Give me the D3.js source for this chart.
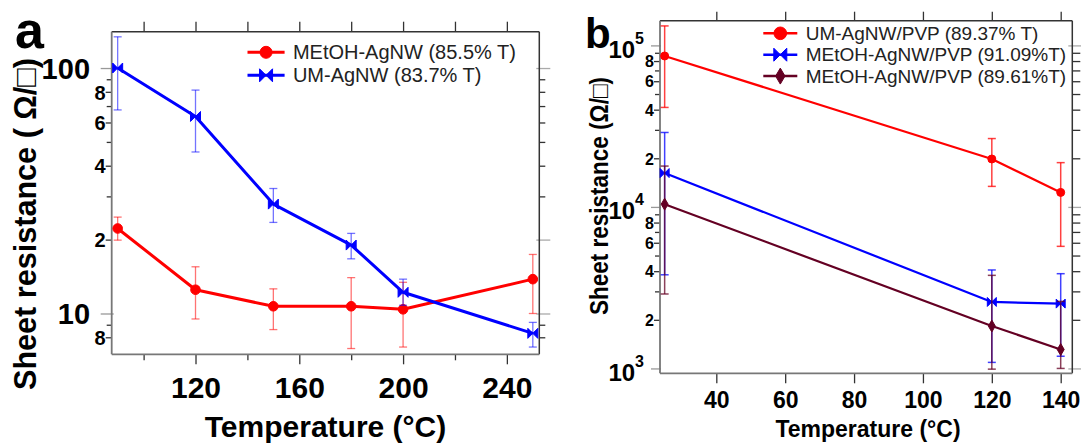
<!DOCTYPE html>
<html>
<head>
<meta charset="utf-8">
<script src="https://cdn.jsdelivr.net/npm/d3@7"></script>
<style>
  html, body { margin: 0; padding: 0; background: #fff; }
  svg { display: block; font-family: "Liberation Sans", Arial, Helvetica, sans-serif; }
</style>
</head>
<body>
<svg id="chart" width="1081" height="443"></svg>
<script>
// ---------- Panel a: annealing temperature series ----------
const tempA      = [90, 120, 150, 180, 200, 250];
const metohA     = [22.2, 12.5, 10.7, 10.7, 10.4, 13.8];
const metohA_lo  = [19.9, 9.5, 8.6, 7.2, 7.3, 10.0];
const metohA_hi  = [24.7, 15.5, 12.6, 14.0, 13.4, 17.4];
const umA        = [100, 63.5, 27.9, 19.0, 12.2, 8.3];
const umA_lo     = [67.5, 45.5, 23.5, 16.7, 10.8, 7.3];
const umA_hi     = [134, 81.3, 32.3, 21.2, 13.8, 9.2];

const xLabelsA = [120, 160, 200, 240];
const xMinorA  = [100, 140, 180, 220];
const yLabelsA = [8, 10, 20, 40, 60, 80, 100];
const yMinorA  = [9, 30, 50, 70, 90];

// ---------- Panel b: PVP-coated films ----------
const tempB        = [25, 120, 140];
const umPvpB       = [86000, 19800, 12300];
const umPvpB_lo    = [41300, 13400, 5700];
const umPvpB_hi    = [132000, 26500, 18800];
const metohPvp1B    = [16200, 2580, 2520];
const metohPvp1B_lo = [3800, 1090, 1190];
const metohPvp1B_hi = [28900, 4070, 3860];
const metohPvp2B    = [10400, 1830, 1310];
const metohPvp2B_lo = [2890, 990, 1000];
const metohPvp2B_hi = [17900, 3770, 2600];

const xLabelsB = [40, 60, 80, 100, 120, 140];
const yLabelsB = [1e3, 2e3, 4e3, 6e3, 8e3, 1e4, 2e4, 4e4, 6e4, 8e4, 1e5];
const yMinorB  = [3e3, 5e3, 7e3, 9e3, 3e4, 5e4, 7e4, 9e4];

const RED = "#ff0000", BLUE = "#0000ff", MAROON = "#640023";

const svg = d3.select("#chart");

// marker path builders
const markers = {
  circle: s => d3.symbol().type(d3.symbolCircle).size(Math.PI * s * s)(),
  bowtie: s => `M${-s},${-s}L0,0L${-s},${s}ZM${s},${-s}L0,0L${s},${s}Z`,
  diamond: s => `M0,${-s * 1.7}L${s},0L0,${s * 1.7}L${-s},0Z`
};

const isDecade = v => Math.abs(Math.log10(v) - Math.round(Math.log10(v))) < 1e-9;
const mantissa = v => Math.round(v / Math.pow(10, Math.floor(Math.log10(v) + 1e-9)));

function drawSeries(g, x, y, xs, ys, lo, hi, color, shape, opt) {
  const pts = xs.map((t, i) => ({ t, v: ys[i], lo: lo[i], hi: hi[i] }));
  // error bars
  const eb = g.append("g").attr("stroke", color).attr("stroke-opacity", opt.errOpacity)
    .attr("stroke-width", opt.errWidth).attr("fill", "none");
  pts.forEach(p => {
    const cx = x(p.t);
    eb.append("line").attr("x1", cx).attr("x2", cx).attr("y1", y(p.lo)).attr("y2", y(p.hi));
    eb.append("line").attr("x1", cx - opt.cap).attr("x2", cx + opt.cap).attr("y1", y(p.lo)).attr("y2", y(p.lo));
    eb.append("line").attr("x1", cx - opt.cap).attr("x2", cx + opt.cap).attr("y1", y(p.hi)).attr("y2", y(p.hi));
  });
  // connecting line
  g.append("path").datum(pts)
    .attr("d", d3.line().x(d => x(d.t)).y(d => y(d.v)))
    .attr("fill", "none").attr("stroke", color).attr("stroke-width", opt.lineWidth)
    .attr("stroke-linejoin", "round");
  // markers
  g.selectAll(null).data(pts).enter().append("path")
    .attr("transform", d => `translate(${x(d.t)},${y(d.v)})`)
    .attr("d", markers[shape](opt.size[shape]))
    .attr("fill", color).attr("stroke", color).attr("stroke-width", 1);
}

function drawBox(g, B) {
  g.append("line").attr("x1", B.l).attr("x2", B.r).attr("y1", B.t).attr("y2", B.t).attr("stroke", "#333").attr("stroke-width", 1.5);
  g.append("line").attr("x1", B.r).attr("x2", B.r).attr("y1", B.t).attr("y2", B.b).attr("stroke", "#333").attr("stroke-width", 1.5);
  g.append("line").attr("x1", B.l).attr("x2", B.l).attr("y1", B.t).attr("y2", B.b).attr("stroke", "#777").attr("stroke-width", 1.8);
  g.append("line").attr("x1", B.l).attr("x2", B.r).attr("y1", B.b).attr("y2", B.b).attr("stroke", "#777").attr("stroke-width", 1.8);
}

function styleAxis(sel) {
  sel.select(".domain").remove();
  sel.selectAll(".tick line").attr("stroke", "#333").attr("stroke-width", 1.3);
  sel.selectAll("text").attr("fill", "#000").attr("font-weight", "bold");
}

function legend(g, items, o) {
  items.forEach((it, i) => {
    const cy = o.y0 + i * o.dy;
    g.append("line").attr("x1", o.x1).attr("x2", o.x2).attr("y1", cy).attr("y2", cy)
      .attr("stroke", it.color).attr("stroke-width", o.lineWidth);
    g.append("path").attr("transform", `translate(${(o.x1 + o.x2) / 2},${cy})`)
      .attr("d", markers[it.shape](o.size[it.shape]))
      .attr("fill", it.color).attr("stroke", it.color).attr("stroke-width", 1);
    g.append("text").attr("x", o.tx).attr("y", cy + o.baseOff)
      .attr("font-size", o.font).attr("fill", "#222").text(it.label);
  });
}

// =================== Panel a ===================
(function () {
  const A = { l: 111.7, t: 31.7, r: 539.3, b: 354.3 };
  const x = d3.scaleLinear().domain([87.7, 252.5]).range([A.l, A.r]);
  const y = d3.scaleLog().domain([6.82, 140.6]).range([A.b, A.t]);
  const g = svg.append("g");

  // bottom axis: labeled + minor
  const bx = g.append("g").attr("transform", `translate(0,${A.b})`)
    .call(d3.axisBottom(x).tickValues(xLabelsA).tickSize(10).tickFormat(d3.format("d")));
  styleAxis(bx);
  bx.selectAll("text").attr("y", 43.7).attr("dy", 0).attr("font-size", 30);
  const bxm = g.append("g").attr("transform", `translate(0,${A.b})`)
    .call(d3.axisBottom(x).tickValues(xMinorA).tickSize(6).tickFormat(""));
  styleAxis(bxm);

  // top axis
  const tx = g.append("g").attr("transform", `translate(0,${A.t})`)
    .call(d3.axisTop(x).tickValues(xLabelsA.concat(xMinorA)).tickSize(10).tickFormat(""));
  styleAxis(tx);

  // left axis
  const ly = g.append("g").attr("transform", `translate(${A.l},0)`)
    .call(d3.axisLeft(y).tickValues(yLabelsA).tickSize(10)
      .tickFormat(d => isDecade(d) ? String(d) : String(mantissa(d))));
  styleAxis(ly);
  ly.selectAll(".tick").each(function (d) {
    const t = d3.select(this);
    if (isDecade(d)) {
      t.select("line").attr("x1", 2).attr("x2", -11).attr("stroke", "#999");
      t.select("text").attr("x", -21.7).attr("font-size", 29).attr("dy", "0.35em");
    } else {
      t.select("line").attr("x2", -6);
      t.select("text").attr("x", -6.2).attr("font-size", 20).attr("dy", "0.36em");
    }
  });
  const lym = g.append("g").attr("transform", `translate(${A.l},0)`)
    .call(d3.axisLeft(y).tickValues(yMinorA).tickSize(5).tickFormat(""));
  styleAxis(lym);

  // right axis
  const ry = g.append("g").attr("transform", `translate(${A.r},0)`)
    .call(d3.axisRight(y).tickValues(yLabelsA.concat(yMinorA)).tickSize(6).tickFormat(""));
  styleAxis(ry);
  ry.selectAll(".tick").filter(d => d === 10 || d === 20 || d === 100)
    .select("line").attr("x1", -3).attr("x2", 11).attr("stroke", "#aaa");

  drawBox(g, A);

  const clip = g.append("g");
  const opt = { errOpacity: 0.55, errWidth: 1.3, cap: 4, lineWidth: 3,
                size: { circle: 4.8, bowtie: 5 } };
  drawSeries(clip, x, y, tempA, metohA, metohA_lo, metohA_hi, RED, "circle", opt);
  drawSeries(clip, x, y, tempA, umA, umA_lo, umA_hi, BLUE, "bowtie", opt);

  legend(g, [
    { label: "MEtOH-AgNW (85.5% T)", color: RED, shape: "circle" },
    { label: "UM-AgNW (83.7% T)", color: BLUE, shape: "bowtie" }
  ], { x1: 247.5, x2: 284.6, tx: 292.9, y0: 52.3, dy: 23, baseOff: 7, font: 20,
       lineWidth: 3, size: { circle: 6, bowtie: 6.5 } });

  // titles
  g.append("text").attr("x", (A.l + A.r) / 2).attr("y", 437).attr("text-anchor", "middle")
    .attr("font-size", 30).attr("font-weight", "bold").text("Temperature (°C)");
  g.append("text").attr("transform", "translate(36,224) rotate(-90)").attr("text-anchor", "middle")
    .attr("font-size", 31.5).attr("font-weight", "bold")
    .attr("textLength", 332).attr("lengthAdjust", "spacingAndGlyphs")
    .text("Sheet resistance ( Ω/□)");
  g.append("text").attr("x", 15).attr("y", 47.5).attr("font-size", 52).attr("font-weight", "bold").text("a");
})();

// =================== Panel b ===================
(function () {
  const B = { l: 660, t: 20.7, r: 1072.3, b: 373.3 };
  const x = d3.scaleLinear().domain([23.65, 143.37]).range([B.l, B.r]);
  const y = d3.scaleLog().domain([933, 142200]).range([B.b, B.t]);
  const g = svg.append("g");

  const bx = g.append("g").attr("transform", `translate(0,${B.b})`)
    .call(d3.axisBottom(x).tickValues(xLabelsB).tickSize(10).tickFormat(d3.format("d")));
  styleAxis(bx);
  bx.selectAll("text").attr("y", 35).attr("dy", 0).attr("font-size", 23);

  const tx = g.append("g").attr("transform", `translate(0,${B.t})`)
    .call(d3.axisTop(x).tickValues(xLabelsB).tickSize(9).tickFormat(""));
  styleAxis(tx);

  const ly = g.append("g").attr("transform", `translate(${B.l},0)`)
    .call(d3.axisLeft(y).tickValues(yLabelsB).tickSize(6).tickFormat(""));
  styleAxis(ly);
  ly.selectAll(".tick").each(function (d) {
    const t = d3.select(this);
    const txt = t.select("text").attr("fill", "#000").attr("font-weight", "bold");
    if (isDecade(d)) {
      t.select("line").attr("x1", 1).attr("x2", -9).attr("stroke", "#999");
      txt.attr("x", -16).attr("dy", 12).attr("font-size", 24).attr("text-anchor", "end");
      txt.text(null);
      txt.append("tspan").text("10");
      txt.append("tspan").attr("dy", -14).attr("font-size", 16).text(String(Math.round(Math.log10(d))));
    } else {
      txt.attr("x", -6).attr("dy", "0.36em").attr("font-size", 16).text(String(mantissa(d)));
    }
  });
  const lym = g.append("g").attr("transform", `translate(${B.l},0)`)
    .call(d3.axisLeft(y).tickValues(yMinorB).tickSize(5).tickFormat(""));
  styleAxis(lym);

  const ry = g.append("g").attr("transform", `translate(${B.r},0)`)
    .call(d3.axisRight(y).tickValues(yLabelsB.concat(yMinorB)).tickSize(8).tickFormat(""));
  styleAxis(ry);
  ry.selectAll(".tick").filter(d => isDecade(d))
    .select("line").attr("x1", -4).attr("x2", 10).attr("stroke", "#aaa");

  drawBox(g, B);

  const opt = { errOpacity: 0.75, errWidth: 1.5, cap: 4, lineWidth: 2.2,
                size: { circle: 4, bowtie: 4.5, diamond: 3.5 } };
  drawSeries(g, x, y, tempB, umPvpB, umPvpB_lo, umPvpB_hi, RED, "circle", opt);
  drawSeries(g, x, y, tempB, metohPvp1B, metohPvp1B_lo, metohPvp1B_hi, BLUE, "bowtie", opt);
  drawSeries(g, x, y, tempB, metohPvp2B, metohPvp2B_lo, metohPvp2B_hi, MAROON, "diamond", opt);

  legend(g, [
    { label: "UM-AgNW/PVP (89.37% T)", color: RED, shape: "circle" },
    { label: "MEtOH-AgNW/PVP (91.09%T)", color: BLUE, shape: "bowtie" },
    { label: "MEtOH-AgNW/PVP (89.61%T)", color: MAROON, shape: "diamond" }
  ], { x1: 763.3, x2: 797.3, tx: 805.7, y0: 33.3, dy: 21.4, baseOff: 6.5, font: 19,
       lineWidth: 2.5, size: { circle: 6.3, bowtie: 6.5, diamond: 4.7 } });

  g.append("text").attr("x", 868).attr("y", 437).attr("text-anchor", "middle")
    .attr("font-size", 23).attr("font-weight", "bold").text("Temperature (°C)");
  g.append("text").attr("transform", "translate(608,196) rotate(-90)").attr("text-anchor", "middle")
    .attr("font-size", 25).attr("font-weight", "bold")
    .attr("textLength", 238).attr("lengthAdjust", "spacingAndGlyphs")
    .text("Sheet resistance (Ω/□)");
  g.append("text").attr("x", 585).attr("y", 48).attr("font-size", 42).attr("font-weight", "bold").text("b");
})();
</script>
</body>
</html>
